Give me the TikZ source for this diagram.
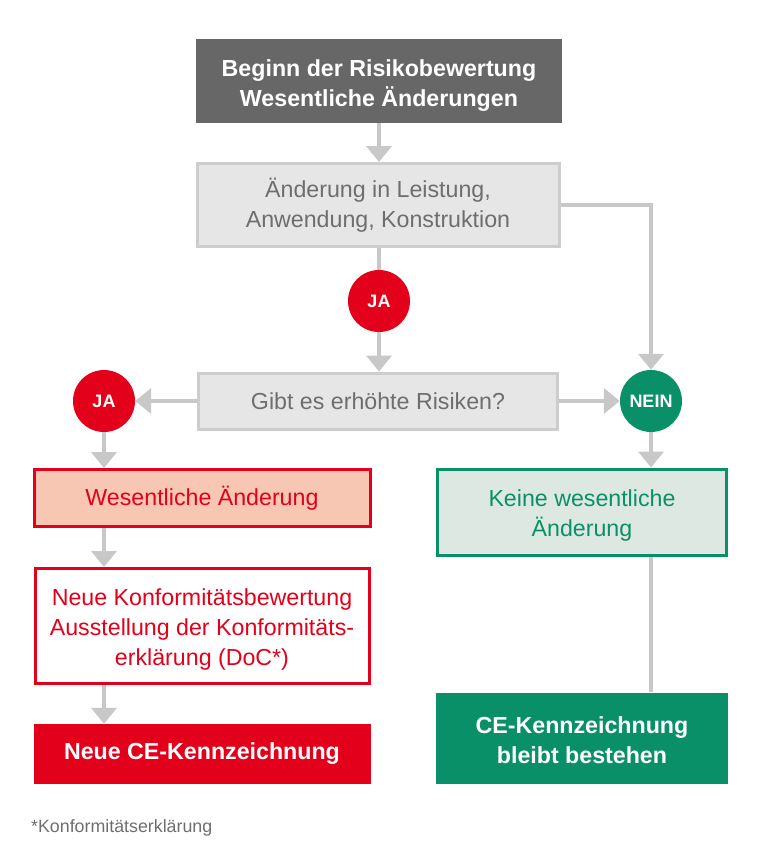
\documentclass[tikz,border=0pt]{standalone}
\usepackage{fontspec}
\setmainfont{Liberation Sans}
\usetikzlibrary{arrows.meta}
\definecolor{topgray}{HTML}{676767}
\definecolor{boxfill}{HTML}{E6E6E6}
\definecolor{boxline}{HTML}{CDCDCD}
\definecolor{txtgray}{HTML}{6E6E6E}
\definecolor{arrgray}{HTML}{C8C8C8}
\definecolor{myred}{HTML}{E2001A}
\definecolor{salmon}{HTML}{F7C7B4}
\definecolor{mygreen}{HTML}{0A9068}
\definecolor{lightgreen}{HTML}{DDE8E2}
\newcommand{\myraise}[1]{\rule{0pt}{#1}}
\begin{document}
\begin{tikzpicture}[x=1pt,y=-1pt,
  boxbase/.style={rectangle, inner sep=0pt, align=center, font=\fontsize{23.2}{30}\selectfont},
  boldbox/.style={boxbase, font=\fontsize{23.2}{30}\selectfont\bfseries, text=white},
  greybox/.style={boxbase, fill=boxfill, draw=boxline, line width=3pt, text=txtgray},
  redbox/.style={boxbase, draw=myred, line width=3pt, text=myred},
  greenbox/.style={boxbase, draw=mygreen, line width=3pt, text=mygreen, fill=lightgreen},
  badge/.style={circle, minimum size=62pt, inner sep=0pt, text=white, font=\fontsize{18}{18}\selectfont\bfseries},
  arr/.style={draw=arrgray, line width=4.5pt, -{Triangle[width=25pt,length=16pt]}},
  plainline/.style={draw=arrgray, line width=4.5pt}
]
\path[use as bounding box] (0,0) rectangle (762,852);

\node[boldbox, fill=topgray, minimum width=366pt, minimum height=84pt] (top) at (379,81)
  {\myraise{26pt}Beginn der Risikobewertung\\Wesentliche Änderungen};
\node[greybox, minimum width=362pt, minimum height=83pt] (chg) at (378,205)
  {Änderung in Leistung,\\Anwendung, Konstruktion};
\node[badge, fill=myred] (ja1) at (379,301) {JA};
\node[greybox, minimum width=359pt, minimum height=56pt] (q) at (378,401)
  {Gibt es erhöhte Risiken?};
\node[badge, fill=myred] (ja2) at (104,401) {JA};
\node[badge, fill=mygreen] (nein) at (651,401) {NEIN};

\node[redbox, fill=salmon, minimum width=336pt, minimum height=57pt] (wes) at (202,498)
  {Wesentliche Änderung};
\node[redbox, fill=white, minimum width=334pt, minimum height=115pt] (neue) at (202,626)
  {\myraise{24pt}Neue Konformitätsbewertung\\Ausstellung der Konformitäts-\\erklärung (DoC*)};
\node[boldbox, fill=myred, minimum width=337pt, minimum height=60pt] (ce1) at (202,754)
  {Neue CE-Kennzeichnung};

\node[greenbox, minimum width=289pt, minimum height=86pt] (keine) at (582,512)
  {\myraise{24pt}Keine wesentliche\\Änderung};
\node[boldbox, fill=mygreen, minimum width=292pt, minimum height=91pt] (ce2) at (582,738)
  {\myraise{22pt}CE-Kennzeichnung\\bleibt bestehen};

\node[anchor=west, inner sep=0pt, text=txtgray, font=\fontsize{17.8}{20}\selectfont] (foot) at (31,828)
  {*Konformitätserklärung};

% connectors
\draw[arr] (ja1.north |- top.south) -- (ja1.north |- chg.north);
\draw[plainline] (ja1.north |- chg.south) -- (ja1.north);
\draw[arr] (ja1.south) -- (ja1.south |- q.north);
\draw[arr] (chg.east) -| (nein.north);
\draw[arr] (q.west) -- (ja2.east);
\draw[arr] (q.east) -- (nein.west);
\draw[arr] (ja2.south) -- (ja2.south |- wes.north);
\draw[arr] (ja2.south |- wes.south) -- (ja2.south |- neue.north);
\draw[arr] (ja2.south |- neue.south) -- (ja2.south |- ce1.north);
\draw[arr] (nein.south) -- (nein.south |- keine.north);
\draw[plainline, line width=4pt] (nein.south |- keine.south) -- (nein.south |- ce2.north);
\end{tikzpicture}
\end{document}
